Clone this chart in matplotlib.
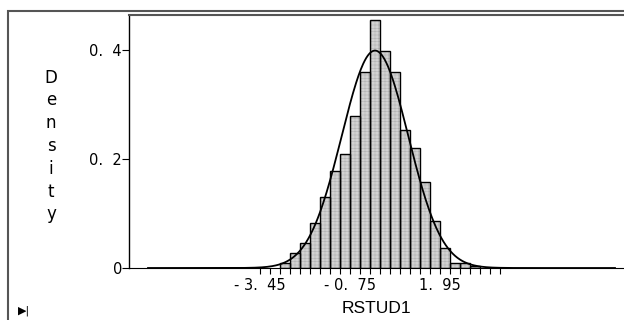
import numpy as np
import matplotlib.pyplot as plt
from matplotlib.patches import Rectangle

plt.rcParams['font.family'] = ['DejaVu Sans']
plt.rcParams['hatch.linewidth'] = 0.3

# histogram of RSTUD1 (bin width 0.3)
bin_left = [-2.85, -2.55, -2.25, -1.95, -1.65, -1.35, -1.05, -0.75, -0.45, -0.15,
            0.15, 0.45, 0.75, 1.05, 1.35, 1.65, 1.95, 2.25, 2.55, 2.85]
density = [0.010, 0.027, 0.046, 0.083, 0.130, 0.178, 0.210, 0.278, 0.360, 0.455,
           0.399, 0.360, 0.254, 0.220, 0.157, 0.086, 0.037, 0.010, 0.010, 0.003]
bin_width = 0.3

# fitted normal curve
mu = 0.0
sigma = 1.0
curve_range = (-6.81, 7.2)

x_labels = ['- 3.  45', '- 0.  75', '1.  95']
x_label_pos = [-3.45, -0.75, 1.95]
y_ticks = [0, 0.2, 0.4]
y_labels = ['0', '0.  2', '0.  4']

fig = plt.figure(figsize=(6.24, 3.2), dpi=100)
ax = fig.add_axes([129/624, 52/320, 495/624, 253/320])

ax.bar(bin_left, density, width=bin_width, align='edge', color='#d2d2d2',
       edgecolor='#a8a8a8', linewidth=0, hatch='+++++', zorder=1)
ax.bar(bin_left, density, width=bin_width, align='edge', fill=False,
       edgecolor='black', linewidth=1.0, zorder=2)

xs = np.linspace(curve_range[0], curve_range[1], 600)
ys = np.exp(-0.5 * ((xs - mu) / sigma) ** 2) / (sigma * np.sqrt(2 * np.pi))
ax.plot(xs, ys, color='black', lw=1.3, zorder=3)

ax.set_xlim(-7.38, 7.47)
ax.set_ylim(0, 0.4642)

ax.set_xticks(x_label_pos)
ax.set_xticklabels(x_labels, fontsize=10.5)
ax.set_xticks(np.arange(-3.45, 3.80, 0.3), minor=True)
ax.tick_params(axis='x', which='both', length=4, width=0.8, direction='out', pad=3)
ax.set_yticks(y_ticks)
ax.set_yticklabels(y_labels, fontsize=10.5)
ax.tick_params(axis='y', length=5, width=0.8, pad=0)

ax.spines['right'].set_visible(False)
ax.spines['top'].set_color('#555555')
ax.spines['top'].set_linewidth(1.5)
ax.spines['left'].set_linewidth(1.0)
ax.spines['bottom'].set_linewidth(0.8)

ax.set_xlabel('RSTUD1', fontsize=12.5, labelpad=6, family='Liberation Sans')
fig.text(51/624, (320 - 146)/320, 'D\ne\nn\ns\ni\nt\ny', ha='center', va='center',
         fontsize=12, linespacing=1.34)

# outer frame
fig.patches.append(Rectangle((8/624, -0.2), 1.2, (309/320) + 0.2, transform=fig.transFigure,
                             fill=False, edgecolor='#555555', lw=1.5))
fig.text(18/624, 4/320, '▶|', fontsize=8, ha='left', va='bottom')

fig.savefig('out.png', dpi=100)
